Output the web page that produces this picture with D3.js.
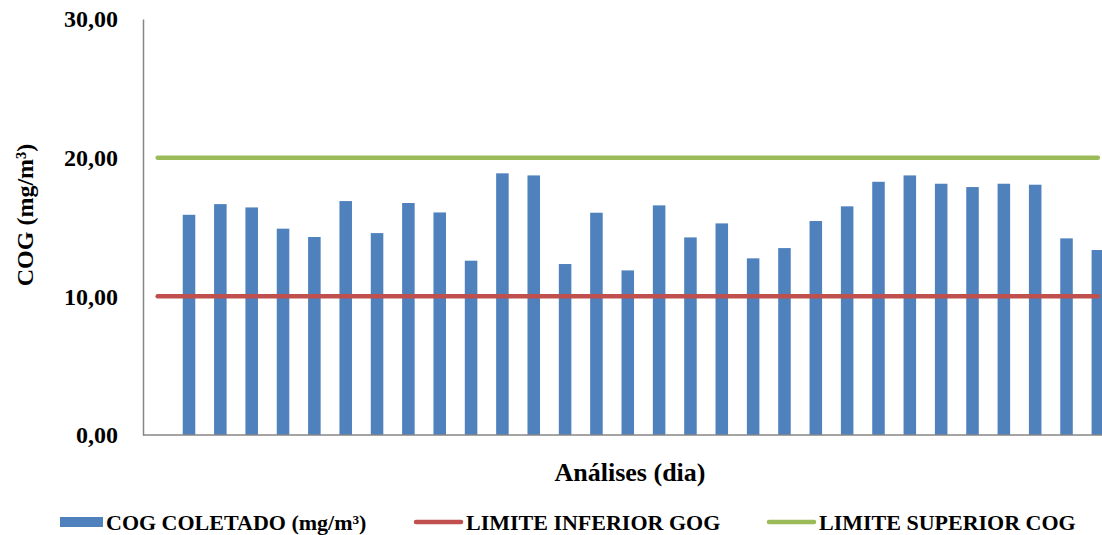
<!DOCTYPE html>
<html><head><meta charset="utf-8">
<script src="https://cdn.jsdelivr.net/npm/d3@7/dist/d3.min.js"></script>
</head><body style="margin:0">
<svg id="chart" width="1102" height="535" font-family="Times New Roman"></svg>
<script>
// Categories: first slot is empty (line starts there), then days 1..30
const categories = ["0","1","2","3","4","5","6","7","8","9","10","11","12","13","14","15","16","17","18","19","20","21","22","23","24","25","26","27","28","29","30"];
const cogColetado = [null,15.88,16.65,16.41,14.88,14.28,16.87,14.56,16.73,16.05,12.57,18.87,18.72,12.33,16.03,11.87,16.56,14.25,15.26,12.74,13.48,15.43,16.49,18.26,18.72,18.12,17.88,18.12,18.05,14.18,13.34];
const limiteInferior = [10,10,10,10,10,10,10,10,10,10,10,10,10,10,10,10,10,10,10,10,10,10,10,10,10,10,10,10,10,10,10];
const limiteSuperior = [20,20,20,20,20,20,20,20,20,20,20,20,20,20,20,20,20,20,20,20,20,20,20,20,20,20,20,20,20,20,20];
const yTickValues = [0,10,20,30];
const legendLabels = ["COG COLETADO (mg/m³)","LIMITE INFERIOR GOG","LIMITE SUPERIOR COG"];
const colors = {bar:"#4F81BD", low:"#C0504D", high:"#9BBB59", axis:"#868686"};

const svg = d3.select("#chart");
const x0 = 142, band = 31.34;
const x = d3.scaleBand().domain(categories).range([x0, x0 + band*categories.length]).paddingInner(0.6).paddingOuter(0.3);
const y = d3.scaleLinear().domain([0,30]).range([435,19]);

function label(sel, size){
  return sel.attr("font-size", size).attr("font-weight","bold").attr("fill","#000")
    .attr("font-family","Times New Roman")
    .style("font-family","'Times New Roman'");
}

// bars
svg.append("g").selectAll("rect")
  .data(categories.map((c,i)=>({c, v:cogColetado[i]})).filter(d=>d.v!=null))
  .join("rect")
  .attr("x", d=>x(d.c)).attr("width", x.bandwidth())
  .attr("y", d=>y(d.v)).attr("height", d=>y(0)-y(d.v))
  .attr("fill", colors.bar);

// y axis
const yAxis = svg.append("g").attr("transform","translate(143,0)")
  .call(d3.axisLeft(y).tickValues(yTickValues).tickSize(0).tickPadding(25)
    .tickFormat(d=>d3.format(".2f")(d).replace(".",",")));
yAxis.attr("font-family", "Times New Roman").attr("font-size", 24);
yAxis.select(".domain").attr("stroke",colors.axis).attr("stroke-width",1.5);
label(yAxis.selectAll("text"), 24);

// x axis
const xAxis = svg.append("g").attr("transform","translate(0,435)")
  .call(d3.axisBottom(x).tickSize(0).tickFormat(""));
xAxis.select(".domain").attr("stroke",colors.axis).attr("stroke-width",1.5).attr("d","M143,0H1102");

// limit lines
const cx = c => x(c) + x.bandwidth()/2;
const line = d3.line().x((d,i)=>cx(categories[i])).y(d=>y(d));
svg.append("path").datum(limiteInferior).attr("d",line).attr("fill","none")
  .attr("stroke",colors.low).attr("stroke-width",4.5).attr("stroke-linecap","round");
svg.append("path").datum(limiteSuperior).attr("d",line).attr("fill","none")
  .attr("stroke",colors.high).attr("stroke-width",4.5).attr("stroke-linecap","round");

// axis titles
label(svg.append("text"), 24).attr("transform","translate(33,215) rotate(-90)")
  .attr("text-anchor","middle").text("COG (mg/m³)");
label(svg.append("text"), 26).attr("x",630).attr("y",481).attr("text-anchor","middle")
  .text("Análises (dia)");

// legend
const lg = svg.append("g");
const legendX = [60, 416, 769];
lg.append("rect").attr("x",legendX[0]).attr("y",517).attr("width",43).attr("height",10).attr("fill",colors.bar);
lg.append("line").attr("x1",legendX[1]).attr("x2",legendX[1]+45).attr("y1",522).attr("y2",522)
  .attr("stroke",colors.low).attr("stroke-width",4.5).attr("stroke-linecap","round");
lg.append("line").attr("x1",legendX[2]).attr("x2",legendX[2]+45).attr("y1",522).attr("y2",522)
  .attr("stroke",colors.high).attr("stroke-width",4.5).attr("stroke-linecap","round");
const textX = [106, 466, 819];
legendLabels.forEach((t,i)=>{
  label(lg.append("text"), 22).attr("x",textX[i]).attr("y",530).text(t);
});
</script>
</body></html>
